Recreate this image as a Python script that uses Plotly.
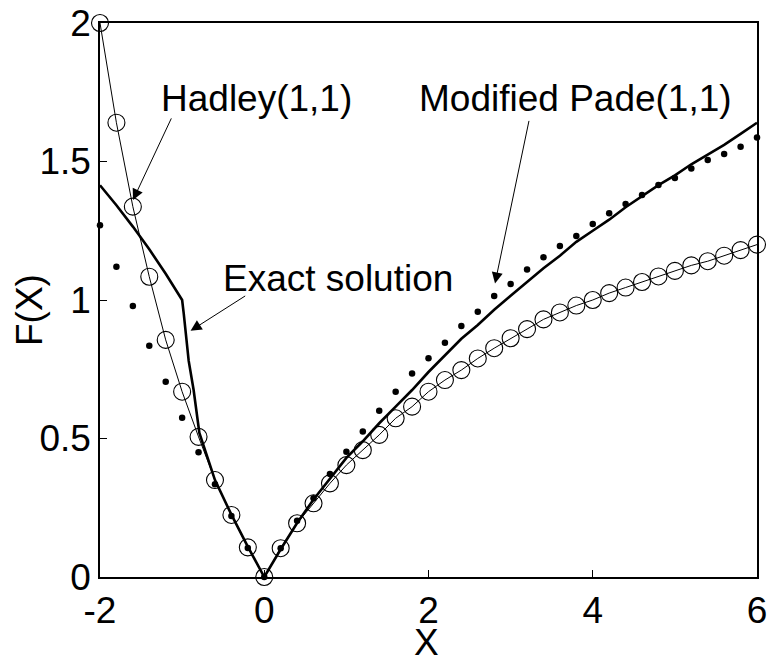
import plotly.graph_objects as go

# ---- data ----
x_grid = [-2.0, -1.8, -1.6, -1.4, -1.2, -1.0, -0.8, -0.6, -0.4, -0.2, 0.0,
          0.2, 0.4, 0.6, 0.8, 1.0, 1.2, 1.4, 1.6, 1.8, 2.0,
          2.2, 2.4, 2.6, 2.8, 3.0, 3.2, 3.4, 3.6, 3.8, 4.0,
          4.2, 4.4, 4.6, 4.8, 5.0, 5.2, 5.4, 5.6, 5.8, 6.0]

hadley = [2.0, 1.64, 1.337, 1.084, 0.856, 0.669, 0.506, 0.35, 0.224, 0.107, 0.0,
          0.104, 0.194, 0.266, 0.338, 0.404, 0.458, 0.513, 0.573, 0.615, 0.669,
          0.711, 0.747, 0.789, 0.826, 0.862, 0.895, 0.93, 0.955, 0.98, 1.0,
          1.025, 1.045, 1.065, 1.085, 1.105, 1.125, 1.14, 1.16, 1.18, 1.2]

pade = [1.27, 1.12, 0.978, 0.835, 0.705, 0.575, 0.45, 0.335, 0.22, 0.105, 0.0,
        0.104, 0.203, 0.284, 0.372, 0.452, 0.525, 0.6, 0.669, 0.735, 0.79,
        0.846, 0.906, 0.958, 1.014, 1.058, 1.11, 1.154, 1.195, 1.231, 1.274,
        1.313, 1.347, 1.379, 1.415, 1.44, 1.475, 1.505, 1.527, 1.553, 1.587]

exact_x = [-2.0, -1.8, -1.6, -1.4, -1.2, -1.0, -0.98, -0.96, -0.92, -0.86, -0.79,
           -0.6, -0.4, -0.2, 0.0, 0.2, 0.4, 0.6, 0.8, 1.0, 1.2, 1.4, 1.6, 1.8, 2.0,
           2.2, 2.4, 2.6, 2.8, 3.0, 3.2, 3.4, 3.6, 3.8, 4.0,
           4.2, 4.4, 4.6, 4.8, 5.0, 5.2, 5.4, 5.6, 5.8, 6.0]
exact_y = [1.414, 1.342, 1.265, 1.183, 1.095, 1.0, 0.95, 0.89, 0.78, 0.675, 0.52,
           0.35, 0.225, 0.11, 0.0, 0.1, 0.195, 0.28, 0.355, 0.43, 0.49, 0.555, 0.615, 0.675, 0.74,
           0.80, 0.86, 0.91, 0.965, 1.015, 1.065, 1.115, 1.16, 1.21, 1.25,
           1.29, 1.335, 1.375, 1.415, 1.45, 1.49, 1.525, 1.56, 1.6, 1.64]

x_ticks = [-2, 0, 2, 4, 6]
x_tick_text = ["-2", "0", "2", "4", "6"]
y_ticks = [0, 0.5, 1, 1.5, 2]
y_tick_text = ["0", "0.5", "1", "1.5", "2"]

FONT = "Arial, 'Liberation Sans', sans-serif"
FS = 37

fig = go.Figure()
fig.add_trace(go.Scatter(
    x=exact_x, y=exact_y, mode="lines", name="Exact solution",
    line=dict(color="black", width=2.6), cliponaxis=False))
fig.add_trace(go.Scatter(
    x=x_grid, y=hadley, mode="lines+markers", name="Hadley(1,1)",
    line=dict(color="black", width=1),
    marker=dict(symbol="circle-open", size=17, color="black", line=dict(width=1.1)),
    cliponaxis=False))
fig.add_trace(go.Scatter(
    x=x_grid, y=pade, mode="markers", name="Modified Pade(1,1)",
    marker=dict(symbol="circle", size=6.5, color="black"),
    cliponaxis=False))

ann_font = dict(family=FONT, size=FS, color="black")
annotations = [
    # text labels
    dict(x=-0.10, y=1.726, text="Hadley(1,1)", showarrow=False, font=ann_font),
    dict(x=0.898, y=1.079, text="Exact solution", showarrow=False, font=ann_font),
    dict(x=3.79, y=1.726, text="Modified Pade(1,1)", showarrow=False, font=ann_font),
    # arrows
    dict(x=-1.598, y=1.361, ax=-1.123, ay=1.661, axref="x", ayref="y", text="",
         showarrow=True, arrowhead=2, arrowsize=2.2, arrowwidth=1, arrowcolor="black"),
    dict(x=-0.897, y=0.889, ax=-0.214, ay=1.018, axref="x", ayref="y", text="",
         showarrow=True, arrowhead=2, arrowsize=2.2, arrowwidth=1, arrowcolor="black"),
    dict(x=2.81, y=1.06, ax=3.227, ay=1.652, axref="x", ayref="y", text="",
         showarrow=True, arrowhead=2, arrowsize=2.2, arrowwidth=1, arrowcolor="black"),
    # axis titles
    dict(xref="paper", yref="paper", x=-0.1065, y=0.482, text="F(X)", textangle=-90,
         xanchor="center", yanchor="middle", showarrow=False, font=ann_font),
    dict(xref="paper", yref="paper", x=0.497, y=-0.119, text="X",
         xanchor="center", yanchor="middle", showarrow=False, font=ann_font),
]

axis_common = dict(showline=True, mirror=True, linecolor="black", linewidth=1.5,
                   ticks="inside", ticklen=7, tickcolor="black", tickwidth=1.2,
                   showgrid=False, zeroline=False, automargin=False,
                   tickfont=dict(family=FONT, size=FS, color="black"))

fig.update_layout(
    width=769, height=661,
    margin=dict(l=100, r=12, t=23, b=84, autoexpand=False),
    paper_bgcolor="white", plot_bgcolor="white",
    showlegend=False,
    xaxis=dict(range=[-2, 6], tickvals=x_ticks, ticktext=x_tick_text, **axis_common),
    yaxis=dict(range=[0, 2], tickvals=y_ticks, ticktext=y_tick_text, **axis_common),
    annotations=annotations,
)

fig.write_html(
    "out.html",
    config={"displayModeBar": False},
    post_script="document.body.style.margin='0';document.body.style.overflow='hidden';",
)
